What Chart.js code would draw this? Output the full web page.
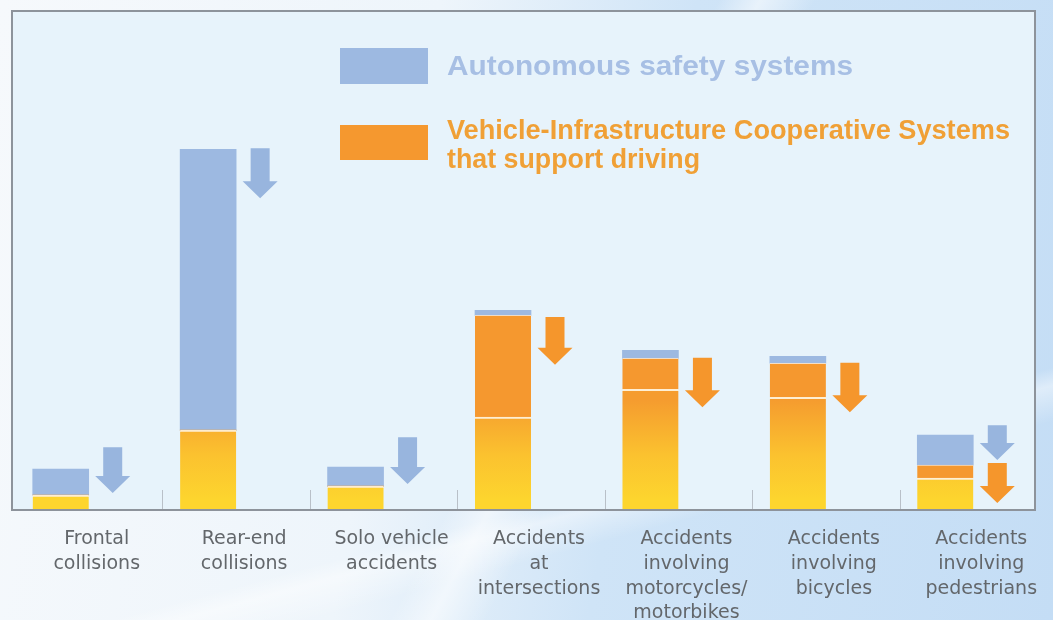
<!DOCTYPE html>
<html>
<head>
<meta charset="utf-8">
<script src="https://cdn.jsdelivr.net/npm/chart.js@4.4.0/dist/chart.umd.min.js"></script>
<style>
  html, body { margin: 0; padding: 0; }
  body {
    width: 1053px; height: 620px; overflow: hidden;
    background:
      linear-gradient(118deg, transparent 52%, rgba(255,255,255,0.55) 55%, transparent 59%),
      linear-gradient(165deg, transparent 72%, rgba(255,255,255,0.45) 74%, transparent 78%),
      linear-gradient(100deg, #f6f9fc 0%, #eef5fb 38%, #cfe4f7 60%, #c4ddf5 100%);
  }
</style>
</head>
<body>
<canvas id="chart" width="1053" height="620"></canvas>
<script>
// accident categories along the x axis
const categories = [
  ['Frontal', 'collisions'],
  ['Rear-end', 'collisions'],
  ['Solo vehicle', 'accidents'],
  ['Accidents', 'at', 'intersections'],
  ['Accidents', 'involving', 'motorcycles/', 'motorbikes'],
  ['Accidents', 'involving', 'bicycles'],
  ['Accidents', 'involving', 'pedestrians']
];

// bar segments (relative scale, 0-100)
const remaining   = [3.0, 16.0, 4.8, 18.6, 24.2, 22.6, 6.4];
const cooperative = [0,   0,    0,   20.4, 6.2,  6.8,  2.6];
const autonomous  = [5.2, 56.3, 3.8, 1.0,  1.6,  1.4,  6.0];

// reduction arrows, [from, to] on the same scale
const blueArrows   = [[3.4, 12.6], [62.5, 72.5], [5.2, 14.6], null, null, null, [10.0, 17.0]];
const orangeArrows = [null, null, null, [29.1, 38.7], [20.6, 30.5], [19.6, 29.5], [1.4, 9.4]];

const legendItems = [
  { lines: ['Autonomous safety systems'], widths: [406], box: '#9db9e1', text: '#a7bfe4' },
  { lines: ['Vehicle-Infrastructure Cooperative Systems', 'that support driving'], widths: [563, 253], box: '#f5982f', text: '#f0a036' }
];

const BLUE = '#9db9e1';
const ORANGE = '#f5982f';
const FRAME = '#8d939b';

function yellowGradient(ctx) {
  const chart = ctx.chart;
  if (!chart.chartArea) return '#fbc630';
  const y = chart.scales.y;
  const g = chart.ctx.createLinearGradient(0, y.getPixelForValue(22), 0, y.getPixelForValue(2));
  g.addColorStop(0, '#f59c2f');
  g.addColorStop(0.55, '#fbc22f');
  g.addColorStop(1, '#fdd52e');
  return g;
}

const framePlugin = {
  id: 'frame',
  beforeDatasetsDraw(chart) {
    const { ctx, chartArea: a, scales } = chart;
    const left = a.left - 3, right = a.right - 12;
    ctx.save();
    ctx.fillStyle = '#e7f3fb';
    ctx.fillRect(left, a.top, right - left, a.bottom - a.top);
    // separators between categories
    ctx.strokeStyle = '#b9c0c8';
    ctx.lineWidth = 1;
    const x = scales.x;
    for (let i = 0; i < categories.length - 1; i++) {
      const px = Math.round((x.getPixelForTick(i) + x.getPixelForTick(i + 1)) / 2) + 0.5;
      ctx.beginPath();
      ctx.moveTo(px, a.bottom - 20);
      ctx.lineTo(px, a.bottom);
      ctx.stroke();
    }
    ctx.restore();
  },
  afterDatasetsDraw(chart) {
    const { ctx, chartArea: a } = chart;
    const left = a.left - 3, right = a.right - 12;
    ctx.save();
    ctx.strokeStyle = FRAME;
    ctx.lineWidth = 2;
    ctx.strokeRect(left, a.top, right - left, a.bottom - a.top);
    ctx.restore();
  }
};

const arrowPlugin = {
  id: 'arrows',
  afterDatasetsDraw(chart) {
    const ctx = chart.ctx;
    chart.data.datasets.forEach((ds, di) => {
      if (!ds.arrowColor) return;
      const meta = chart.getDatasetMeta(di);
      meta.data.forEach((el, i) => {
        if (!ds.data[i]) return;
        const top = Math.min(el.y, el.base);
        const bottom = Math.max(el.y, el.base);
        const headW = 35, shaftW = 19, headH = 17;
        const cx = el.x;
        ctx.save();
        ctx.fillStyle = ds.arrowColor;
        ctx.beginPath();
        ctx.moveTo(cx - shaftW / 2, top);
        ctx.lineTo(cx + shaftW / 2, top);
        ctx.lineTo(cx + shaftW / 2, bottom - headH);
        ctx.lineTo(cx + headW / 2, bottom - headH);
        ctx.lineTo(cx, bottom);
        ctx.lineTo(cx - headW / 2, bottom - headH);
        ctx.lineTo(cx - shaftW / 2, bottom - headH);
        ctx.closePath();
        ctx.fill();
        ctx.restore();
      });
    });
  }
};

const legendPlugin = {
  id: 'customLegend',
  afterDraw(chart) {
    const ctx = chart.ctx;
    const boxX = 340, boxW = 88, textX = 447;
    const rows = [{ boxY: 48, boxH: 36, textY: 67 }, { boxY: 125, boxH: 35, textY: 131 }];
    ctx.save();
    ctx.font = 'bold 28px "Liberation Sans", Arial, sans-serif';
    ctx.textBaseline = 'middle';
    legendItems.forEach((item, i) => {
      const r = rows[i];
      ctx.fillStyle = item.box;
      ctx.fillRect(boxX, r.boxY, boxW, r.boxH);
      ctx.fillStyle = item.text;
      item.lines.forEach((line, j) => {
        const w = ctx.measureText(line).width;
        ctx.save();
        ctx.translate(textX, r.textY + j * 29);
        ctx.scale(item.widths[j] / w, 1);
        ctx.fillText(line, 0, 0);
        ctx.restore();
      });
    });
    ctx.restore();
  }
};

new Chart(document.getElementById('chart'), {
  type: 'bar',
  data: {
    labels: categories,
    datasets: [
      {
        label: 'Remaining',
        data: remaining,
        stack: 'bar',
        backgroundColor: yellowGradient,
        borderColor: 'rgba(255,238,210,0.95)',
        borderWidth: { top: 2, left: 0, right: 0, bottom: 0 },
        borderSkipped: false,
        barThickness: 56
      },
      {
        label: 'Vehicle-Infrastructure Cooperative Systems that support driving',
        data: cooperative,
        stack: 'bar',
        backgroundColor: ORANGE,
        borderColor: 'rgba(255,225,190,0.8)',
        borderWidth: { top: 1, left: 0, right: 0, bottom: 0 },
        borderSkipped: false,
        barThickness: 56
      },
      {
        label: 'Autonomous safety systems',
        data: autonomous,
        stack: 'bar',
        backgroundColor: BLUE,
        borderWidth: 0,
        barThickness: 56
      },
      {
        label: 'Reduction (autonomous)',
        data: blueArrows,
        stack: 'arrow',
        yAxisID: 'y2',
        backgroundColor: 'rgba(0,0,0,0)',
        arrowColor: '#98b5de',
        barThickness: 48
      },
      {
        label: 'Reduction (cooperative)',
        data: orangeArrows,
        stack: 'arrow',
        yAxisID: 'y2',
        backgroundColor: 'rgba(0,0,0,0)',
        arrowColor: '#f5962c',
        barThickness: 48
      }
    ]
  },
  options: {
    responsive: false,
    animation: false,
    layout: { padding: { left: 15, right: 6, top: 11, bottom: 0 } },
    plugins: { legend: { display: false }, tooltip: { enabled: false } },
    scales: {
      x: {
        stacked: true,
        grid: { display: false, drawTicks: false },
        border: { display: false },
        afterFit: s => { s.height = 110; },
        ticks: {
          autoSkip: false,
          maxRotation: 0,
          padding: 17,
          labelOffset: 8,
          color: '#63676b',
          font: { family: '"DejaVu Sans", sans-serif', size: 19, lineHeight: 1.3 }
        }
      },
      y: { display: false, stacked: true, min: 0, max: 100 },
      y2: { display: false, stacked: false, min: 0, max: 100 }
    }
  },
  plugins: [framePlugin, arrowPlugin, legendPlugin]
});
</script>
</body>
</html>
